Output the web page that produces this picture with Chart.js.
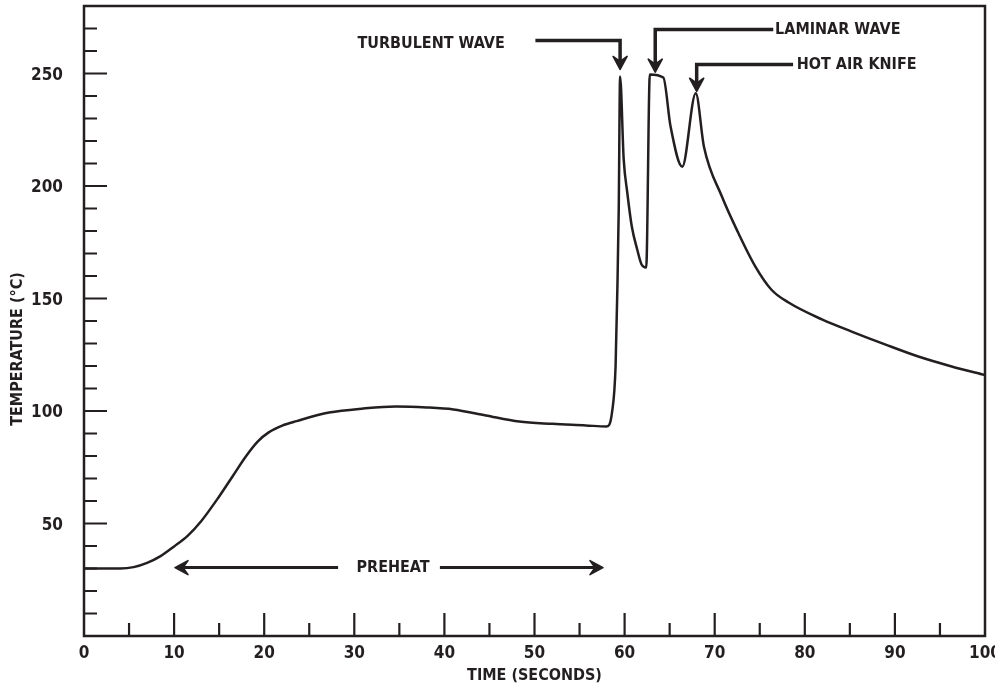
<!DOCTYPE html>
<html lang="en">
<head>
  <meta charset="UTF-8" />
  <title>Temperature profile</title>
  <script src="https://cdn.jsdelivr.net/npm/chart.js"></script>
  <style>
    body { margin: 0; background: #fff; }
    canvas { display: block; }
  </style>
</head>
<body>
  <canvas id="profile" width="995" height="691"></canvas>

  <script>
    // time (s) and temperature (°C)
    const times = [0, 4, 5.5, 7, 8.5, 10, 11.5, 13, 15, 16.5, 18, 19.3, 20.5, 22, 23.6, 27.2, 31, 34.6, 38, 41, 44.6, 48.3, 52, 55.7, 58,
      58.6, 59, 59.2, 59.35, 59.5, 59.9, 60.3, 60.8, 61.4, 61.9, 62.4, 62.8, 64.3, 65.1, 66.4, 67.9, 68.8, 70.8, 72.6,
      74.5, 76.3, 78.2, 81.9, 85.2, 88.9, 92.6, 96.3, 100];
    const temps = [30, 30, 30.6, 32.5, 35.5, 39.8, 44.5, 51, 62, 71, 80, 86.5, 90.5, 93.5, 95.5, 99.3, 101.1, 102, 101.6, 100.7, 98, 95.3, 94.3, 93.6, 93.1,
      99.3, 120, 155, 190, 248.7, 211.8, 197, 182, 171.8, 165, 163.8, 249.6, 248.2, 226.5, 208.6, 241.2, 217.6, 195.3, 179.3,
      164.3, 153.9, 148.2, 140.7, 135.3, 129.6, 124.2, 119.8, 116];

    const xLabels = [0, 10, 20, 30, 40, 50, 60, 70, 80, 90, 100];
    const yLabels = [50, 100, 150, 200, 250];

    // callouts: text, where the line starts, the corner above the peak, arrow tip
    const callouts = [
      { text: "TURBULENT WAVE", textAt: [46.7, 263], side: "left", from: [50.1, 264.7], corner: [59.5, 264.7], tip: [59.5, 251.8] },
      { text: "LAMINAR WAVE", textAt: [76.7, 269.6], side: "right", from: [76.5, 269.6], corner: [63.4, 269.6], tip: [63.4, 250.6] },
      { text: "HOT AIR KNIFE", textAt: [79.1, 254], side: "right", from: [78.7, 254], corner: [68.0, 254], tip: [68.0, 242.1] }
    ];
    // preheat span: arrow tips, gap for the label, label position
    const preheat = { text: "PREHEAT", y: 30.4, left: 10.1, right: 57.6, gapFrom: 28.2, gapTo: 39.5, labelX: 34.3 };

    const INK = "#231f20";
    const FONT = "'Liberation Sans Narrow', 'DejaVu Sans Condensed', sans-serif";

    function arrowHead(ctx, x, y, dir) {
      // dir: 'down', 'left', 'right'
      ctx.save();
      ctx.translate(x, y);
      if (dir === "left") ctx.rotate(Math.PI / 2);
      if (dir === "right") ctx.rotate(-Math.PI / 2);
      ctx.beginPath();
      ctx.moveTo(0, 0);
      ctx.lineTo(-7, -13);
      ctx.lineTo(0, -8);
      ctx.lineTo(7, -13);
      ctx.closePath();
      ctx.fill();
      ctx.lineWidth = 1.6;
      ctx.lineJoin = "round";
      ctx.stroke();
      ctx.restore();
    }

    const decorations = {
      id: "decorations",
      afterDraw(chart) {
        const { ctx, chartArea: a, scales: { x, y } } = chart;
        ctx.save();
        ctx.strokeStyle = INK;
        ctx.fillStyle = INK;

        // frame
        ctx.lineWidth = 2.5;
        ctx.strokeRect(a.left, a.top, a.right - a.left, a.bottom - a.top);

        // inward ticks
        ctx.lineWidth = 2.2;
        ctx.beginPath();
        x.ticks.forEach(t => {
          if (t.value <= x.min || t.value >= x.max) return;
          const px = x.getPixelForValue(t.value);
          const len = t.value % 10 === 0 ? 23 : 13;
          ctx.moveTo(px, a.bottom);
          ctx.lineTo(px, a.bottom - len);
        });
        y.ticks.forEach(t => {
          if (t.value <= y.min || t.value >= y.max) return;
          const py = y.getPixelForValue(t.value);
          const len = t.value % 50 === 0 ? 23 : 13;
          ctx.moveTo(a.left, py);
          ctx.lineTo(a.left + len, py);
        });
        ctx.stroke();

        // tick labels (drawn here so Chart.js keeps no extra room for them)
        ctx.font = "bold 17px " + FONT;
        ctx.textBaseline = "middle";
        ctx.textAlign = "center";
        xLabels.forEach(v => ctx.fillText(String(v), x.getPixelForValue(v), a.bottom + 18));
        ctx.textAlign = "right";
        yLabels.forEach(v => ctx.fillText(String(v), a.left - 21, y.getPixelForValue(v) + 2));

        // axis titles
        ctx.font = "bold 16px " + FONT;
        ctx.textAlign = "center";
        ctx.fillText("TIME (SECONDS)", (a.left + a.right) / 2, 676);
        ctx.save();
        ctx.translate(18, (a.top + a.bottom) / 2 + 28);
        ctx.rotate(-Math.PI / 2);
        ctx.fillText("TEMPERATURE (°C)", 0, 0);
        ctx.restore();

        // callouts
        callouts.forEach(c => {
          const fx = x.getPixelForValue(c.from[0]), fy = y.getPixelForValue(c.from[1]);
          const cx = x.getPixelForValue(c.corner[0]), cy = y.getPixelForValue(c.corner[1]);
          const tx = x.getPixelForValue(c.tip[0]), ty = y.getPixelForValue(c.tip[1]);
          ctx.lineWidth = 3.5;
          ctx.beginPath();
          ctx.moveTo(fx, fy);
          ctx.lineTo(cx, cy);
          ctx.lineTo(tx, ty - 8);
          ctx.stroke();
          arrowHead(ctx, tx, ty, "down");
          ctx.textAlign = c.side === "left" ? "right" : "left";
          ctx.fillText(c.text, x.getPixelForValue(c.textAt[0]), y.getPixelForValue(c.textAt[1]));
        });

        // preheat span
        const py = y.getPixelForValue(preheat.y);
        const l = x.getPixelForValue(preheat.left), r = x.getPixelForValue(preheat.right);
        ctx.lineWidth = 3;
        ctx.beginPath();
        ctx.moveTo(l + 8, py);
        ctx.lineTo(x.getPixelForValue(preheat.gapFrom), py);
        ctx.moveTo(x.getPixelForValue(preheat.gapTo), py);
        ctx.lineTo(r - 8, py);
        ctx.stroke();
        arrowHead(ctx, l, py, "left");
        arrowHead(ctx, r, py, "right");
        ctx.textAlign = "center";
        ctx.fillText(preheat.text, x.getPixelForValue(preheat.labelX), py);

        ctx.restore();
      }
    };

    const points = times.map((t, i) => ({ x: t, y: temps[i] }));

    new Chart(document.getElementById("profile"), {
      type: "line",
      data: {
        datasets: [{
          data: points,
          borderColor: INK,
          borderWidth: 2.5,
          pointRadius: 0,
          fill: false,
          cubicInterpolationMode: "monotone"
        }]
      },
      options: {
        responsive: false,
        animation: false,
        layout: { padding: { left: 0, right: 10, top: 6, bottom: 0 } },
        plugins: { legend: { display: false }, tooltip: { enabled: false } },
        scales: {
          x: {
            type: "linear",
            min: 0,
            max: 100,
            afterFit(s) { s.height = 55; },
            grid: { display: false, drawTicks: false },
            border: { display: false },
            ticks: { stepSize: 5, autoSkip: false, display: false }
          },
          y: {
            min: 0,
            max: 280,
            afterFit(s) { s.width = 84; },
            grid: { display: false, drawTicks: false },
            border: { display: false },
            ticks: { stepSize: 10, autoSkip: false, display: false }
          }
        }
      },
      plugins: [decorations]
    });
  </script>
</body>
</html>
